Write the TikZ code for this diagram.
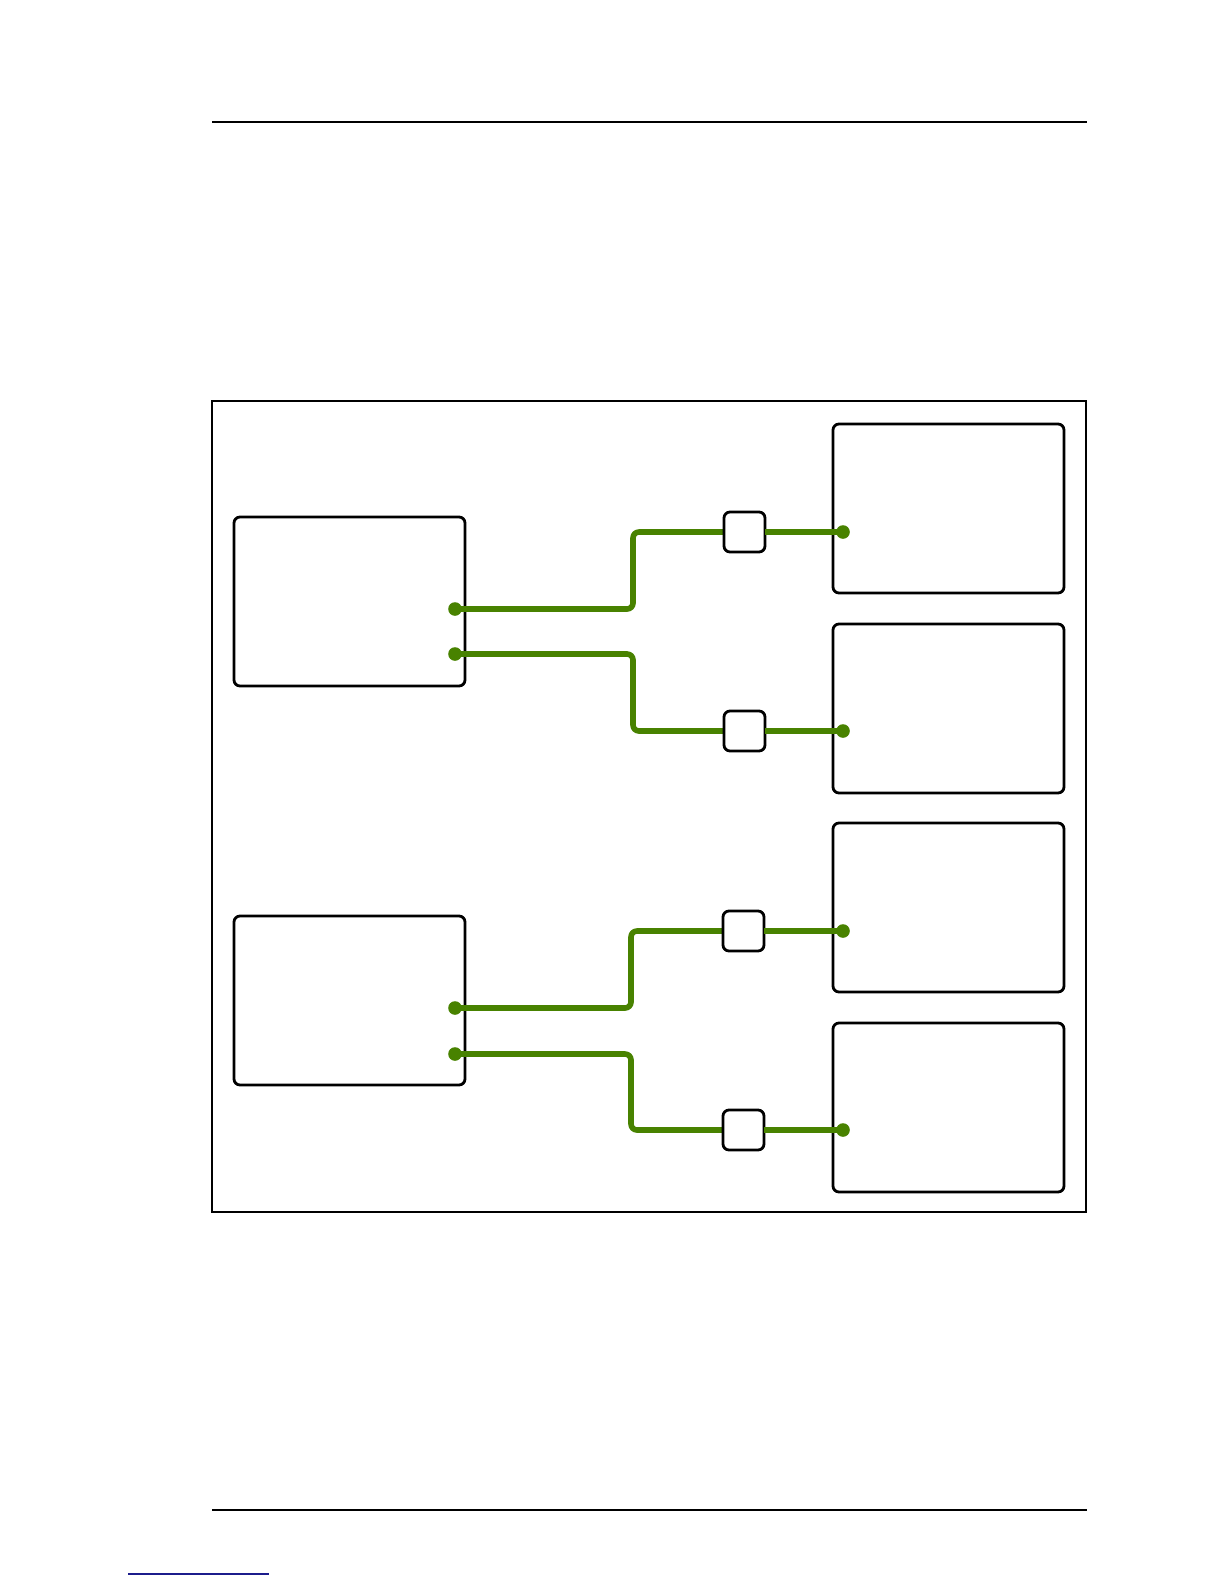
\documentclass[tikz,border=0pt]{standalone}
\definecolor{wirecol}{RGB}{72,130,0}
\definecolor{linkblue}{RGB}{28,28,140}
\begin{document}
\begin{tikzpicture}[x=0.5pt,y=-0.5pt,
  unitbox/.style={draw=black, line width=1.4pt, rounded corners=3pt, minimum width=115.5pt, minimum height=84.5pt, inner sep=0pt, outer sep=0pt},
  inlinebox/.style={draw=black, line width=1.4pt, rounded corners=3pt, minimum width=20.5pt, minimum height=20pt, inner sep=0pt, outer sep=0pt, fill=white},
  wire/.style={draw=wirecol, line width=2.8pt, rounded corners=3pt},
  rule/.style={draw=black, line width=0.9pt},
  frame/.style={draw=black, line width=0.8pt}]
\useasboundingbox (0,0) rectangle (1224,1584);
% page rules
\draw[rule] (212,122) -- (1087,122);
\draw[rule] (212,1510) -- (1087,1510);
\draw[linkblue, line width=0.75pt] (128,1574) -- (269,1574);
% frame
\draw[frame] (212,401) rectangle (1086,1212);
% host boxes
\node[unitbox] (h1) at (349.5,601.5) {};
\node[unitbox] (h2) at (349.5,1000.5) {};
% target boxes
\node[unitbox] (r1) at (948.5,508.5) {};
\node[unitbox] (r2) at (948.5,708.5) {};
\node[unitbox] (r3) at (948.5,907.5) {};
\node[unitbox] (r4) at (948.5,1107.5) {};
% ports
\coordinate (p1) at (455,609);
\coordinate (p2) at (455,654);
\coordinate (p3) at (455,1008);
\coordinate (p4) at (455,1054);
\coordinate (q1) at (843,532);
\coordinate (q2) at (843,731);
\coordinate (q3) at (843,931);
\coordinate (q4) at (843,1130);
% wires
\draw[wire] (p1) -- (633,609) |- (744.5,532);
\draw[wire] (p2) -- (633,654) |- (744.5,731);
\draw[wire] (p3) -- (631,1008) |- (743.5,931);
\draw[wire] (p4) -- (631,1054) |- (743.5,1130);
% inline boxes
\node[inlinebox] (s1) at (744.5,532) {};
\node[inlinebox] (s2) at (744.5,731) {};
\node[inlinebox] (s3) at (743.5,931) {};
\node[inlinebox] (s4) at (743.5,1130) {};
\draw[wire] (s1.east) -- (q1);
\draw[wire] (s2.east) -- (q2);
\draw[wire] (s3.east) -- (q3);
\draw[wire] (s4.east) -- (q4);
% dots
\foreach \d in {p1,p2,p3,p4,q1,q2,q3,q4} \fill[wirecol] (\d) circle (3.4pt);
\end{tikzpicture}
\end{document}
